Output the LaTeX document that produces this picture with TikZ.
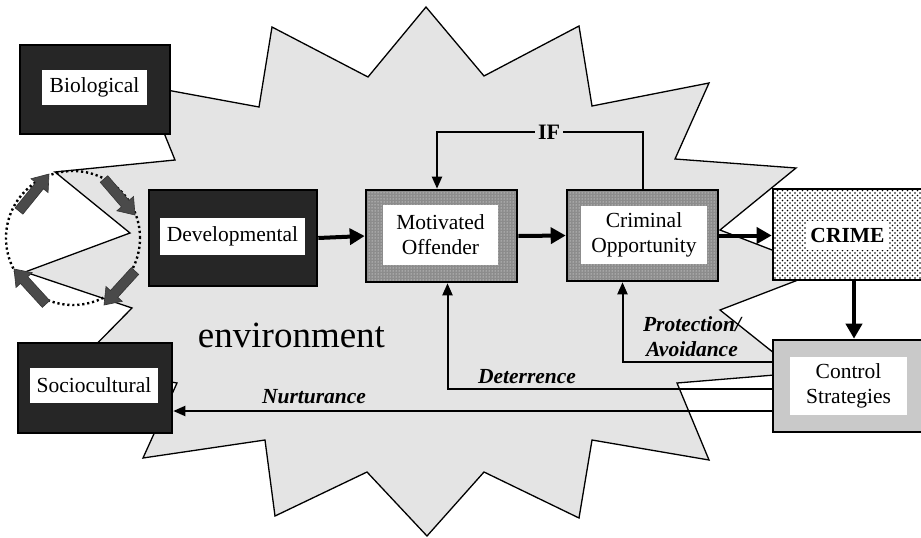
\documentclass[tikz,border=0pt]{standalone}
\usepackage{fontspec}
\setmainfont{Liberation Serif}
\usetikzlibrary{arrows.meta,patterns,calc}
\definecolor{bgc}{HTML}{E4E4E4}
\definecolor{darkfill}{HTML}{262626}
\definecolor{ctrlfill}{HTML}{C9C9C9}
\definecolor{fatgray}{HTML}{4A4A4A}
\pgfdeclarepatternformonly{crimedots}{\pgfqpoint{-1pt}{-1pt}}{\pgfqpoint{4pt}{4pt}}{\pgfqpoint{5pt}{5pt}}{%
  \pgfpathcircle{\pgfqpoint{0pt}{0pt}}{0.8pt}%
  \pgfpathcircle{\pgfqpoint{2.5pt}{2.5pt}}{0.8pt}%
  \pgfusepath{fill}}
\newcommand\cyclearrow[2]{%
  \path (#1) coordinate (fa-a) (#2) coordinate (fa-b);
  \coordinate (fa-h) at ($(fa-b)!15pt!(fa-a)$);
  \filldraw[fill=fatgray, draw=black!80, line width=0.6pt, line join=miter]
    ($(fa-a)!5pt!90:(fa-b)$) -- ($(fa-h)!5pt!-90:(fa-a)$) -- ($(fa-h)!11pt!-90:(fa-a)$)
    -- (fa-b) -- ($(fa-h)!11pt!90:(fa-a)$) -- ($(fa-h)!5pt!90:(fa-a)$)
    -- ($(fa-a)!5pt!-90:(fa-b)$) -- cycle;
}
\begin{document}
\begin{tikzpicture}[x=1pt,y=-1pt,
  boxbase/.style={draw=black, line width=2.6pt, inner sep=0pt},
  darkbox/.style={boxbase, fill=darkfill},
  stipplebox/.style={boxbase, preaction={fill=black!45}, pattern=dots, pattern color=white},
  crimebox/.style={boxbase, preaction={fill=white}, pattern=crimedots, pattern color=black},
  ctrlbox/.style={boxbase, fill=ctrlfill},
  inlabel/.style={fill=white, inner sep=0pt, align=center, font=\fontsize{21.5}{25}\selectfont},
  flowlbl/.style={inner sep=1pt, align=center, font=\bfseries\itshape\fontsize{21.5}{25}\selectfont},
  thickarrow/.style={line width=4pt, -{Triangle[length=15pt,width=16pt]}},
  thinline/.style={line width=2pt},
  thinarrow/.style={line width=2pt, -{Triangle[length=12pt,width=10pt]}}
]
\clip (0,0) rectangle (921,538);
\fill[white] (0,0) rectangle (921,538);

% environment starburst
\draw[fill=bgc, line width=1.3pt, line join=miter]
  (796,168) -- (720,230) -- (824,270) -- (720,310) -- (799,373) -- (677,383)
  -- (709,460) -- (592,440) -- (579,518) -- (484,472) -- (427,536) -- (367,472)
  -- (275,516) -- (265,440) -- (143,458) -- (177,383) -- (75,366) -- (132,308)
  -- (25,272) -- (130,233) -- (55,172) -- (175,160) -- (145,86) -- (259,107)
  -- (272,27) -- (368,77) -- (426,7) -- (484,76) -- (579,26) -- (592,106)
  -- (709,83) -- (675,159) -- cycle;

% cycle circle with fat arrows
\draw[line width=2.4pt, dash pattern=on 2.2pt off 2.8pt] (73,238) circle [radius=67pt];
\cyclearrow{19,211}{49,174}
\cyclearrow{104,179}{135,215}
\cyclearrow{135,271}{104,305}
\cyclearrow{46,304}{14,269}

% boxes
\node[darkbox, minimum width=150pt, minimum height=89pt] (bio) at (95,89.5) {};
\node[inlabel, minimum width=105pt, minimum height=35pt] (bioL) at (94.5,87.5) {Biological};

\node[darkbox, minimum width=168pt, minimum height=96pt] (dev) at (233,238) {};
\node[inlabel, minimum width=145pt, minimum height=37pt] (devL) at (232.5,236.5) {Developmental};

\node[darkbox, minimum width=154pt, minimum height=90pt] (soc) at (95,388) {};
\node[inlabel, minimum width=128pt, minimum height=35pt] (socL) at (94,385.5) {Sociocultural};

\node[stipplebox, minimum width=151pt, minimum height=92pt] (mo) at (441.5,236) {};
\node[inlabel, minimum width=115pt, minimum height=60pt] (moL) at (440.5,235) {Motivated\\Offender};

\node[stipplebox, minimum width=151pt, minimum height=91pt] (co) at (642.5,235.5) {};
\node[inlabel, minimum width=126pt, minimum height=58pt] (coL) at (644,235) {Criminal\\Opportunity};

\node[crimebox, minimum width=162pt, minimum height=91pt] (crime) at (854,234.5) {};
\node[inlabel, minimum width=83pt, minimum height=29pt, font=\bfseries\fontsize{21.5}{25}\selectfont] (crimeL) at (847.5,235.5) {CRIME};

\node[ctrlbox, minimum width=162pt, minimum height=92pt] (ctrl) at (854,386) {};
\node[inlabel, minimum width=117pt, minimum height=58pt] (ctrlL) at (848.5,386) {Control\\Strategies};

% environment label
\node[font=\fontsize{37}{40}\selectfont, anchor=base, inner sep=0pt] (env) at (291.5,347) {environment};

% main flow
\draw[thickarrow] (dev.east) -- (mo.west);
\draw[thickarrow] (mo.east) -- (co.west);
\draw[thickarrow] (co.east) -- (co.east -| crime.west);
\draw[thickarrow] (crime.south) -- (ctrl.north);

% IF feedback
\node[fill=bgc, inner sep=3pt, font=\bfseries\fontsize{22}{24}\selectfont] (if) at (549,132) {IF};
\draw[thinline] (co.north) |- (if.east);
\draw[thinarrow] (if.west) -| ([xshift=-4.5pt]mo.north);

% control feedback
\coordinate (proY) at (0,362);
\coordinate (detY) at (0,389);
\coordinate (nurY) at (0,411);
\draw[thinarrow] (ctrl.west |- proY) -| ([xshift=-20pt]co.south);
\draw[thinarrow] (ctrl.west |- detY) -| ([xshift=6pt]mo.south);
\draw[thinarrow] (ctrl.west |- nurY) -- (soc.east |- nurY);

\node[flowlbl] (pro) at (692,337) {Protection/\\Avoidance};
\node[flowlbl] (det) at (527,377) {Deterrence};
\node[flowlbl] (nur) at (314,397) {Nurturance};
\end{tikzpicture}
\end{document}
